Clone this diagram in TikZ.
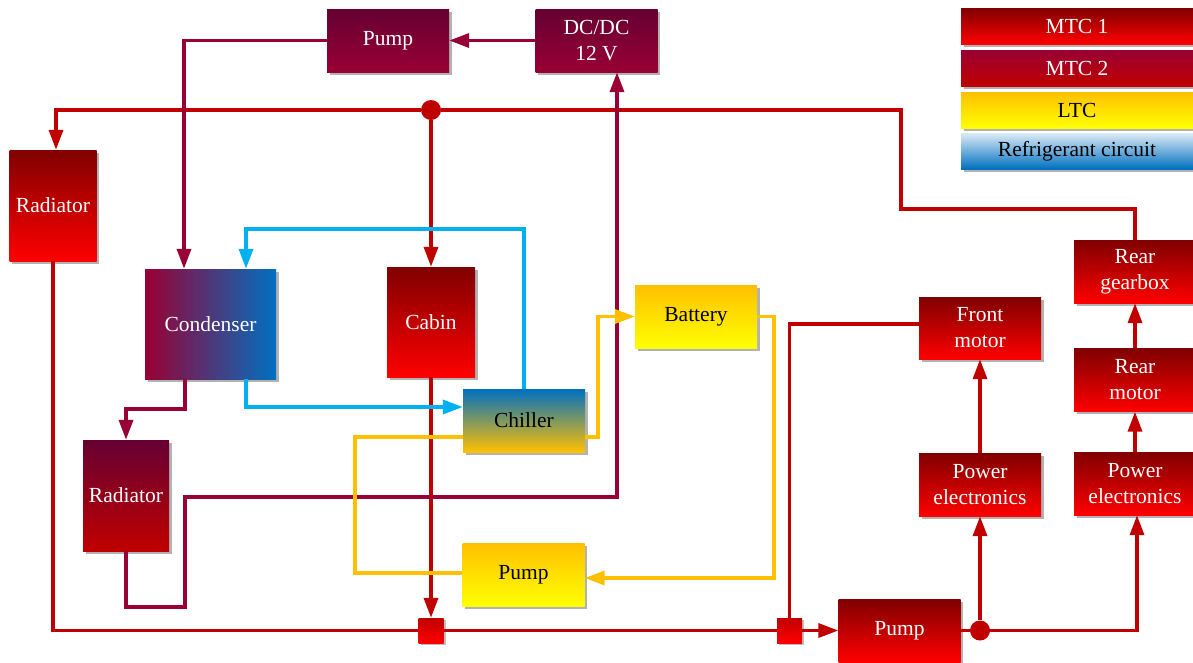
\documentclass[tikz,border=0pt]{standalone}
\usepackage{fontspec}
\setmainfont{Liberation Serif}
\usetikzlibrary{arrows.meta,shadows}

\definecolor{mtcdark}{HTML}{800000}
\definecolor{mtcred}{HTML}{FF0000}
\definecolor{mtcline}{HTML}{C00000}
\definecolor{mttop}{HTML}{660033}
\definecolor{mtbot}{HTML}{990033}
\definecolor{mtline}{HTML}{990033}
\definecolor{ltctop}{HTML}{FFC000}
\definecolor{ltcbot}{HTML}{FFFF00}
\definecolor{refblue}{HTML}{0070C0}
\definecolor{reflight}{HTML}{DDEBF7}
\definecolor{refline}{HTML}{00B0F0}

\tikzset{
  box/.style={minimum width=122pt, minimum height=63pt, inner sep=2pt, align=center,
    font=\fontsize{21.5}{26}\selectfont,
    drop shadow={shadow xshift=2.5pt, shadow yshift=-2.5pt, opacity=0.3, fill=black}},
  mtcone/.style={box, top color=mtcdark, bottom color=mtcred, text=white},
  mtctwo/.style={box, top color=mttop, bottom color=mtbot, text=white},
  ltcbox/.style={box, top color=ltctop, bottom color=ltcbot, text=black},
  legbox/.style={box, minimum width=232pt, minimum height=36pt},
  joint/.style={circle, fill=mtcline, minimum size=20pt, inner sep=0pt},
  valve/.style={minimum width=25pt, minimum height=25pt, inner sep=0pt,
    top color=mtcline, bottom color=mtcred,
    drop shadow={shadow xshift=2pt, shadow yshift=-2pt, opacity=0.25, fill=black}},
  pipe/.style={line width=3.5pt},
  tip/.style={-{Triangle[length=20pt,width=14pt]}},
  redpipe/.style={pipe, draw=mtcline},
  purplepipe/.style={pipe, draw=mtline},
  yellowpipe/.style={pipe, draw=ltctop},
  bluepipe/.style={pipe, draw=refline}
}

\begin{document}
\begin{tikzpicture}[x=1pt, y=-1pt]
  \useasboundingbox (0,0) rectangle (1193,662);

  % components
  \node[mtctwo] (pumpA) at (388,40.5) {Pump};
  \node[mtctwo] (dcdc) at (596.5,40.5) {DC/DC\\12 V};
  \node[mtcone, minimum width=87pt, minimum height=111pt] (rad1) at (53,205.5) {Radiator};
  \node[box, minimum width=131pt, minimum height=110pt, left color=mtline, right color=refblue, text=white] (cond) at (210.5,324) {Condenser};
  \node[mtcone, minimum width=88pt, minimum height=110pt] (cabin) at (431,322) {Cabin};
  \node[box, top color=refblue, bottom color=ltctop, text=black] (chiller) at (524,420.5) {Chiller};
  \node[mtctwo, minimum width=86pt, minimum height=111pt, bottom color=mtcline] (rad2) at (126,495.5) {Radiator};
  \node[ltcbox] (pumpB) at (523.5,574.5) {Pump};
  \node[ltcbox] (battery) at (696,316.5) {Battery};
  \node[mtcone, minimum height=62pt] (fmotor) at (980,328) {Front\\motor};
  \node[mtcone] (pe1) at (980,484.5) {Power\\electronics};
  \node[mtcone] (pumpC) at (899.5,630.5) {Pump};
  \node[mtcone] (gearbox) at (1135,271.5) {Rear\\gearbox};
  \node[mtcone] (rmotor) at (1135,380) {Rear\\motor};
  \node[mtcone] (pe2) at (1135,483.5) {Power\\electronics};

  % junctions
  \node[joint] (j1) at (431,110) {};
  \node[joint] (j2) at (980,630.5) {};
  \node[valve] (sq1) at (431,630.5) {};
  \node[valve] (sq2) at (789.5,630.5) {};

  % legend
  \node[legbox, top color=mtcdark, bottom color=mtcred, text=white] (leg1) at (1077,26) {MTC 1};
  \node[legbox, top color=mtline, bottom color=mtcline, text=white] (leg2) at (1077,68) {MTC 2};
  \node[legbox, top color=ltctop, bottom color=ltcbot] (leg3) at (1077,110) {LTC};
  \node[legbox, top color=reflight, bottom color=refblue] (leg4) at (1077,151) {Refrigerant circuit};

  % bends
  \coordinate (k1) at (901,209);
  \coordinate (k2) at (185,409);
  \coordinate (k3) at (185,607);
  \coordinate (k4) at (617,497);
  \coordinate (k5) at (246,229);
  \coordinate (k6) at (355,437);
  \coordinate (k7) at (598,316.5);
  \coordinate (k8) at (774,316.5);

  % MTC 1
  \draw[redpipe, tip] (j1) -| ([xshift=3pt]rad1.north);
  \draw[redpipe, tip] (j1) -- (cabin.north);
  \draw[redpipe] (j1) -| (k1) -| (gearbox.north);
  \draw[redpipe] (rad1.south) |- (sq1.west);
  \draw[redpipe, tip] (cabin.south) -- (sq1.north);
  \draw[redpipe] (sq1.east) -- (sq2.west);
  \draw[redpipe, tip] (sq2.east) -- (pumpC.west);
  \draw[redpipe] ([yshift=4pt]fmotor.west) -| (sq2.north);
  \draw[redpipe] (pumpC.east) -- (j2);
  \draw[redpipe, tip] (j2) -- (pe1.south);
  \draw[redpipe, tip] (j2) -| ([xshift=2pt]pe2.south);
  \draw[redpipe, tip] (pe1.north) -- (fmotor.south);
  \draw[redpipe, tip] (pe2.north) -- (rmotor.south);
  \draw[redpipe, tip] (rmotor.north) -- (gearbox.south);

  % MTC 2
  \draw[purplepipe, tip] (dcdc.west) -- (pumpA.east);
  \draw[purplepipe, tip] (pumpA.west) -| ([xshift=-26.5pt]cond.north);
  \draw[purplepipe, tip] ([xshift=-25.5pt]cond.south) -- (k2) -| (rad2.north);
  \draw[purplepipe, tip] (rad2.south) |- (k3) |- (k4) -- ([xshift=20.5pt]dcdc.south);

  % LTC
  \draw[yellowpipe] ([yshift=1.5pt]pumpB.west) -| (k6) -- ([yshift=-16.5pt]chiller.west);
  \draw[yellowpipe, tip] ([yshift=-16.5pt]chiller.east) -| (k7) -- (battery.west);
  \draw[yellowpipe, tip] (battery.east) -- (k8) |- ([yshift=-3.5pt]pumpB.east);

  % refrigerant circuit
  \draw[bluepipe, tip] (chiller.north) |- (k5) -- ([xshift=35.5pt]cond.north);
  \draw[bluepipe, tip] ([xshift=35.5pt]cond.south) |- ([yshift=13.5pt]chiller.west);
\end{tikzpicture}
\end{document}
